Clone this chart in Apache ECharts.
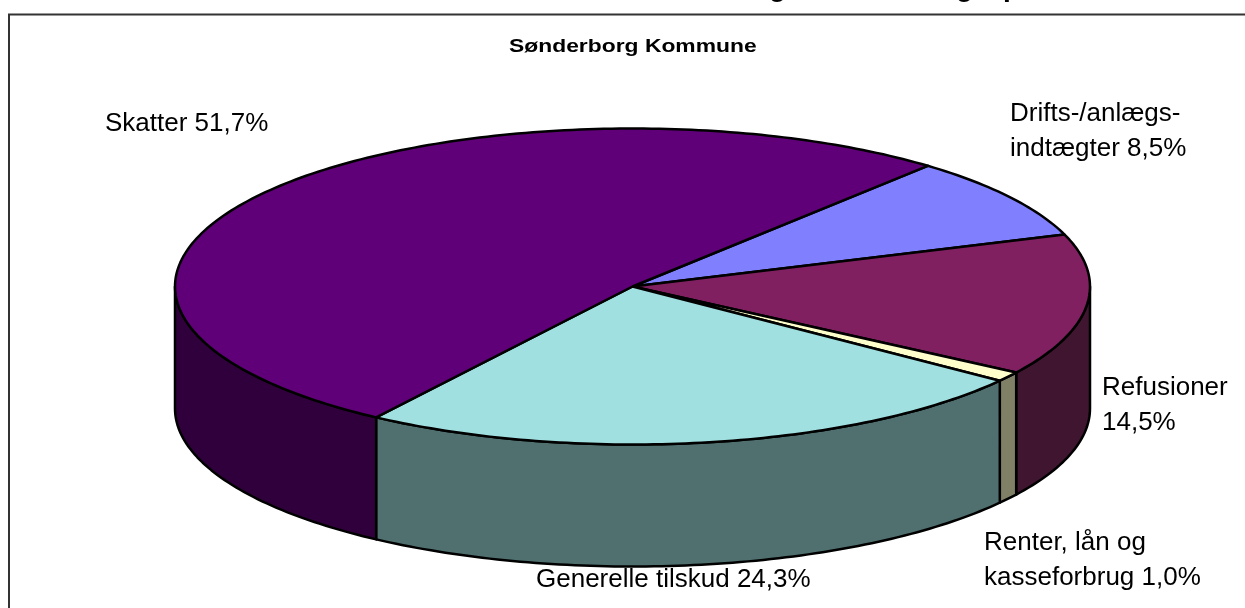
<!DOCTYPE html>
<html>
<head>
    <meta charset="UTF-8">
    <title>Sønderborg Kommune</title>
    <style>
        html, body { margin: 0; padding: 0; background: #fff; }
        #chart { width: 1245px; height: 608px; }
    </style>
    <script src="https://cdn.jsdelivr.net/npm/echarts@6/dist/echarts.min.js"></script>
</head>
<body>
<div id="chart"></div>
<script type="text/javascript">
    // slice data, clockwise from the first slice
    var categories = ['Drifts-/anlægsindtægter', 'Refusioner', 'Renter, lån og kasseforbrug', 'Generelle tilskud', 'Skatter'];
    var shares = [8.5, 14.5, 1.0, 24.3, 51.7];
    var labelLines = [
        ['Drifts-/anlægs-', 'indtægter 8,5%'],
        ['Refusioner', '14,5%'],
        ['Renter, lån og', 'kasseforbrug 1,0%'],
        ['Generelle tilskud 24,3%'],
        ['Skatter 51,7%']
    ];
    var subTitle = 'Sønderborg Kommune';
    // the main title is cut off by the top of the picture, only these tails show
    var cutTitleGlyphs = ['g', 'g', 'p'];

    var topColors = ['#8080ff', '#802060', '#ffffcc', '#a0e0e0', '#600078'];
    var sideColors = ['#404080', '#401530', '#808066', '#507070', '#30003c'];

    // pie geometry, in pixels and degrees
    var cx = 632.5, cy = 286.5, rx = 457.5, ry = 158, depth = 122;
    var startAngle = 40.2;
    var labelPos = [[1010, 97], [1102, 371], [984, 526], [536, 563], [105, 107]];
    var cutTitleX = [769, 956, 1003];
    var textScale = 1.04;

    var total = shares.reduce(function (a, b) { return a + b; }, 0);

    function rimPoint(deg, drop) {
        var t = deg * Math.PI / 180;
        return [cx + rx * Math.sin(t), cy - ry * Math.cos(t) + drop];
    }

    function sliceRange(i) {
        var from = startAngle;
        for (var k = 0; k < i; k++) {
            from += shares[k] / total * 360;
        }
        return [from, from + shares[i] / total * 360];
    }

    function arc(from, to, drop) {
        var pts = [];
        var n = Math.max(2, Math.ceil(Math.abs(to - from)));
        for (var k = 0; k <= n; k++) {
            pts.push(rimPoint(from + (to - from) * k / n, drop));
        }
        return pts;
    }

    function renderTop(params) {
        var r = sliceRange(params.dataIndex);
        return {
            type: 'polygon',
            shape: { points: [[cx, cy]].concat(arc(r[0], r[1], 0)) },
            style: { fill: topColors[params.dataIndex], stroke: '#000', lineWidth: 2.5, lineJoin: 'round' }
        };
    }

    // only the front half of the rim shows a wall
    function renderSide(params) {
        var r = sliceRange(params.dataIndex);
        var from = Math.max(r[0], 90), to = Math.min(r[1], 270);
        if (to <= from) {
            return null;
        }
        return {
            type: 'polygon',
            shape: { points: arc(from, to, 0).concat(arc(to, from, depth)) },
            style: { fill: sideColors[params.dataIndex], stroke: '#000', lineWidth: 2.5, lineJoin: 'round' }
        };
    }

    var elements = [{
        type: 'polyline',
        shape: { points: [[9, 620], [9, 14.5], [1250, 14.5]] },
        style: { fill: null, stroke: '#333', lineWidth: 2 }
    }, {
        type: 'text', x: 509, y: 38, scaleX: 1.27,
        style: { text: subTitle, font: 'bold 18px "Liberation Sans"', fill: '#000' }
    }];

    for (var j = 0; j < cutTitleGlyphs.length; j++) {
        elements.push({
            type: 'text', x: cutTitleX[j], y: 2,
            style: { text: cutTitleGlyphs[j], font: 'bold 28px "Liberation Sans"', fill: '#000', verticalAlign: 'bottom' }
        });
    }

    for (var i = 0; i < labelLines.length; i++) {
        elements.push({
            type: 'text', x: labelPos[i][0], y: labelPos[i][1], scaleX: textScale, z: 10,
            style: {
                text: labelLines[i].join('\n'),
                font: '25px "Liberation Sans"',
                lineHeight: 34.5,
                fill: '#000'
            }
        });
    }

    var chart = echarts.init(document.getElementById('chart'));
    chart.setOption({
        animation: false,
        graphic: { elements: elements },
        series: [
            { type: 'custom', coordinateSystem: 'none', renderItem: renderSide, data: shares, z: 1, silent: true },
            { type: 'custom', coordinateSystem: 'none', renderItem: renderTop, data: shares, z: 2, silent: true }
        ]
    });
</script>
</body>
</html>
